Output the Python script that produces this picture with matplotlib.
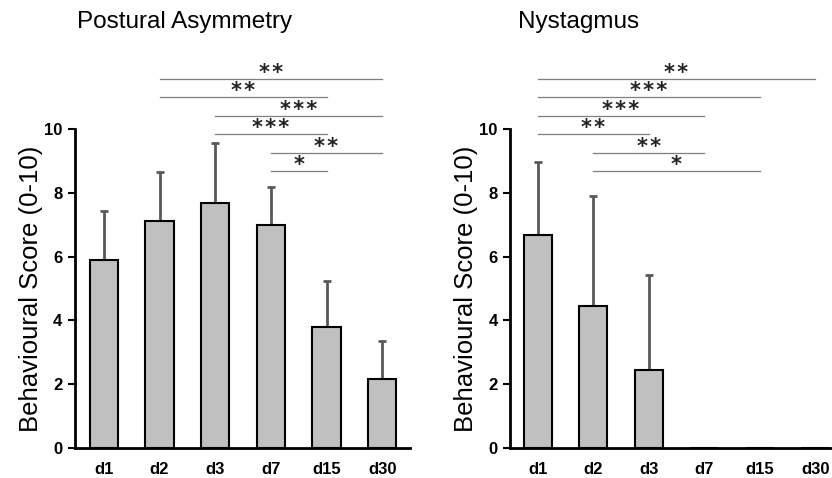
import matplotlib
matplotlib.use('Agg')
import matplotlib.pyplot as plt

plt.rcParams['font.family'] = ['Liberation Sans', 'DejaVu Sans']

days = ['d1', 'd2', 'd3', 'd7', 'd15', 'd30']

postural_mean = [5.89, 7.12, 7.67, 7.0, 3.78, 2.16]
postural_sd = [1.55, 1.52, 1.88, 1.19, 1.44, 1.18]
# (from index, to index, level, stars)
postural_sig = [(1, 5, 11.57, '**'), (1, 4, 10.99, '**'), (2, 5, 10.41, '***'),
                (2, 4, 9.84, '***'), (3, 5, 9.24, '**'), (3, 4, 8.68, '*')]

nystagmus_mean = [6.68, 4.45, 2.45, 0, 0, 0]
nystagmus_sd = [2.29, 3.45, 2.97, 0, 0, 0]
nystagmus_sig = [(0, 5, 11.57, '**'), (0, 4, 10.99, '***'), (0, 3, 10.41, '***'),
                 (0, 2, 9.84, '**'), (1, 3, 9.24, '**'), (1, 4, 8.68, '*')]


def draw_panel(ax, means, sds, sig, show_err):
    x = list(range(len(days)))
    ax.bar(x, means, width=0.51, color='#c0c0c0', edgecolor='black',
           linewidth=1.5, zorder=2)
    ex = [i for i in x if show_err[i]]
    ax.errorbar(ex, [means[i] for i in ex],
                yerr=[[0] * len(ex), [sds[i] for i in ex]],
                fmt='none', ecolor='#595959', elinewidth=2, capsize=3,
                capthick=2, zorder=1)
    for a, b, lvl, stars in sig:
        ax.plot([a, b], [lvl, lvl], color='#7f7f7f', lw=0.9, clip_on=False)
        ax.annotate('\u200a'.join(stars), xy=((a + b) / 2, lvl), xytext=(0, 0),
                    textcoords='offset points', ha='center', va='baseline',
                    fontsize=15, fontweight='bold', color='#222222',
                    family='DejaVu Sans', annotation_clip=False)
    ax.set_ylim(0, 10)
    ax.set_yticks([0, 2, 4, 6, 8, 10])
    ax.set_xticks(x)
    ax.set_xticklabels(days)
    for lab in ax.get_xticklabels() + ax.get_yticklabels():
        lab.set_fontweight('bold')
        lab.set_fontsize(12)
    ax.tick_params(axis='x', length=0, pad=10)
    ax.tick_params(axis='y', length=5, width=1.5, pad=4)
    ax.spines['top'].set_visible(False)
    ax.spines['right'].set_visible(False)
    ax.spines['left'].set_linewidth(2)
    ax.spines['bottom'].set_linewidth(2)
    ax.set_ylabel('Behavioural Score (0-10)', fontsize=18.5, labelpad=1)
    return ax


fig = plt.figure(figsize=(8.32, 4.78), dpi=100)
ax1 = fig.add_axes([0.0901, 0.0628, 0.4027, 0.6674])
ax2 = fig.add_axes([0.6130, 0.0628, 0.4003, 0.6674])

draw_panel(ax1, postural_mean, postural_sd, postural_sig, [True] * 6)
ax1.set_xlim(-0.52, 5.5)
draw_panel(ax2, nystagmus_mean, nystagmus_sd, nystagmus_sig,
           [True, True, True, False, False, False])
ax2.set_xlim(-0.5, 5.5)

fig.text(0.0925, 0.955, 'Postural Asymmetry', fontsize=17.5, va='center', ha='left')
fig.text(0.6225, 0.955, 'Nystagmus', fontsize=17.5, va='center', ha='left')

fig.savefig('out.png', dpi=100)
